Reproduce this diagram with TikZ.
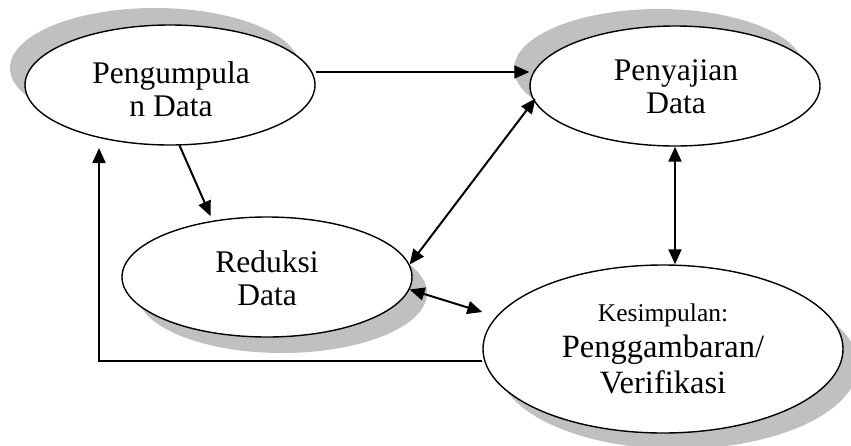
\documentclass[tikz,border=0pt]{standalone}
\usepackage{fontspec}
\setmainfont{Liberation Serif}
\usetikzlibrary{arrows.meta,shapes.geometric,calc}
\definecolor{shadowgray}{RGB}{192,192,192}
\begin{document}
\begin{tikzpicture}[x=1pt,y=-1pt,
  ell/.style={ellipse, draw=black, line width=1.4pt, fill=white, inner sep=0pt},
  shad/.style={ellipse, fill=shadowgray, draw=none, inner sep=0pt},
  small/.style={minimum width=290pt, minimum height=120pt},
  big/.style={minimum width=360pt, minimum height=168pt},
  txt/.style={align=center, inner sep=0pt, font=\fontsize{31.5}{33}\selectfont},
  conn/.style={line width=2pt, -{Triangle[length=15pt,width=13pt]}},
  biconn/.style={line width=2pt, {Triangle[length=15pt,width=13pt]}-{Triangle[length=15pt,width=13pt]}},
]
\useasboundingbox (0,0) rectangle (851,445);
\clip (0,0) rectangle (851,445);
% shadows
\node[shad, small] (s1) at (155,68) {};
\node[shad, small] (s2) at (659,69) {};
\node[shad, small] (s3) at (282,293) {};
\node[shad, big] (s4) at (678,365) {};
% ellipses
\node[ell, small] (e1) at (170,85) {};
\node[ell, small] (e2) at (675,86) {};
\node[ell, small] (e3) at (267,277) {};
\node[ell, big] (e4) at (663,349) {};
% texts
\node[txt] (t1) at (171,89) {Pengumpula\\n Data};
\node[txt] (t2) at (676,87) {Penyajian\\Data};
\node[txt] (t3) at (267,278) {Reduksi\\Data};
\node[txt, font=\fontsize{32.5}{36}\selectfont] (t4) at (663,349) {{\fontsize{25.5}{36}\selectfont Kesimpulan:}\\Penggambaran/\\Verifikasi};
% connectors
\coordinate (fb) at (99,148);
\draw[conn] ([yshift=13pt]e1.east) -- ([yshift=14pt]e2.west);
\draw[conn, shorten >=5pt] (e1.-81) -- (e3.134);
\draw[biconn, shorten <=-3pt] (e2.186) -- (e3.5.5);
\draw[biconn] (e2.south) -- (e2.south |- e4.north);
\draw[biconn] (e3.-5) -- ([yshift=37pt]e4.west);
\draw[conn] ([yshift=-12pt]e4.west) -| (fb);
\end{tikzpicture}
\end{document}
